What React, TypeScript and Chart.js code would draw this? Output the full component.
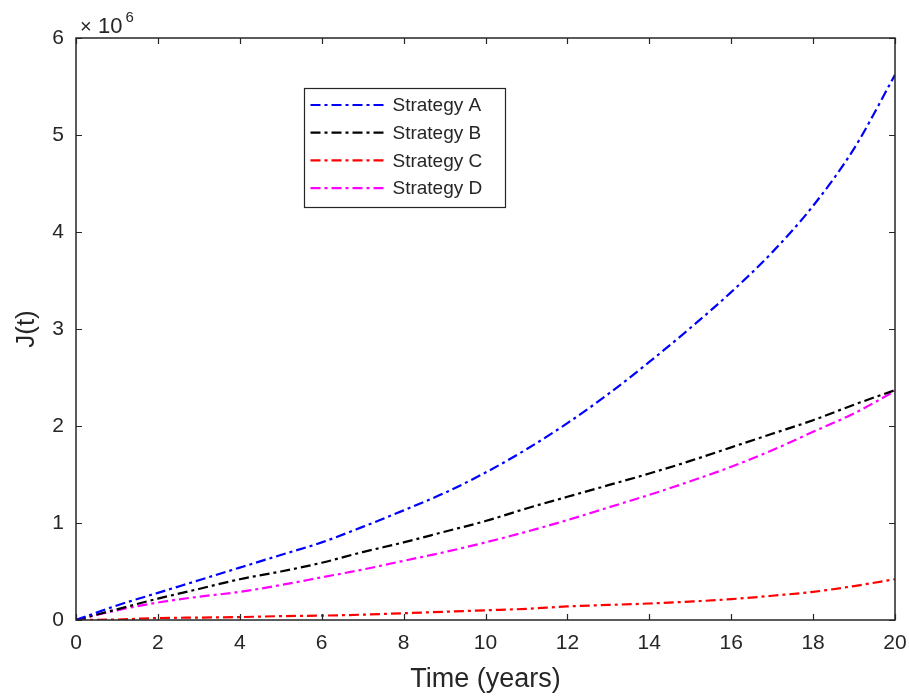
import React, { useEffect, useRef } from "react";
import { Chart, registerables } from "chart.js";

Chart.register(...registerables);

// Time axis (years)
const years = [0, 1, 2, 3, 4, 5, 6, 7, 8, 9, 10, 11, 12, 13, 14, 15, 16, 17, 18, 19, 20];

// J(t) values, in units of 10^6
const strategyA = [0, 0.15, 0.28, 0.41, 0.54, 0.67, 0.8, 0.96, 1.13, 1.31, 1.52, 1.76, 2.03, 2.33, 2.66, 3.01, 3.38, 3.79, 4.27, 4.86, 5.62];
const strategyB = [0, 0.11, 0.22, 0.32, 0.42, 0.5, 0.59, 0.7, 0.8, 0.91, 1.02, 1.15, 1.27, 1.39, 1.51, 1.64, 1.78, 1.92, 2.06, 2.22, 2.37];
const strategyC = [0, 0.005, 0.02, 0.025, 0.03, 0.04, 0.045, 0.055, 0.07, 0.085, 0.1, 0.115, 0.14, 0.155, 0.17, 0.19, 0.215, 0.25, 0.29, 0.35, 0.42];
const strategyD = [0, 0.1, 0.18, 0.24, 0.29, 0.36, 0.44, 0.52, 0.61, 0.7, 0.8, 0.91, 1.03, 1.16, 1.29, 1.43, 1.58, 1.75, 1.94, 2.13, 2.36];

const seriesLabels = ["Strategy A", "Strategy B", "Strategy C", "Strategy D"];
const seriesColors = ["#0000ff", "#000000", "#ff0000", "#ff00ff"];
const seriesValues = [strategyA, strategyB, strategyC, strategyD];

const xTicks = [0, 2, 4, 6, 8, 10, 12, 14, 16, 18, 20];
const yTicks = [0, 1, 2, 3, 4, 5, 6];

const FONT = "'Liberation Sans', Arial, Helvetica, sans-serif";
const AXIS_COLOR = "#262626";
const DASH = [10, 4, 3, 4];

const matlabAxesPlugin = {
  id: "matlabAxes",
  afterDatasetsDraw(chart: any) {
    const { ctx, chartArea } = chart;
    const { left, right, top, bottom } = chartArea;
    const xs = chart.scales.x;
    const ys = chart.scales.y;
    const tl = 6;
    ctx.save();
    ctx.strokeStyle = AXIS_COLOR;
    ctx.lineWidth = 1.2;
    ctx.setLineDash([]);
    ctx.beginPath();
    xTicks.forEach((v) => {
      const px = Math.round(xs.getPixelForValue(v)) + 0.5;
      ctx.moveTo(px, bottom);
      ctx.lineTo(px, bottom - tl);
      ctx.moveTo(px, top);
      ctx.lineTo(px, top + tl);
    });
    yTicks.forEach((v) => {
      const py = Math.round(ys.getPixelForValue(v)) + 0.5;
      ctx.moveTo(left, py);
      ctx.lineTo(left + tl, py);
      ctx.moveTo(right, py);
      ctx.lineTo(right - tl, py);
    });
    ctx.stroke();
    ctx.lineWidth = 1.5;
    ctx.strokeRect(left, top, right - left, bottom - top);
    ctx.restore();
  },
  afterDraw(chart: any) {
    const { ctx, chartArea } = chart;
    ctx.save();
    // exponent label
    ctx.fillStyle = AXIS_COLOR;
    ctx.textBaseline = "alphabetic";
    ctx.textAlign = "left";
    ctx.font = `20px ${FONT}`;
    const ex = chartArea.left + 4;
    ctx.fillText("\u00d7", ex, 33);
    ctx.font = `22px ${FONT}`;
    ctx.fillText("10", ex + 18, 33);
    const w10 = ctx.measureText("10").width;
    ctx.font = `15px ${FONT}`;
    ctx.fillText("6", ex + 19 + w10 + 2, 22);

    // legend
    const bx = 304.5;
    const by = 88.5;
    const bw = 201;
    const bh = 119;
    ctx.fillStyle = "#ffffff";
    ctx.fillRect(bx, by, bw, bh);
    ctx.strokeStyle = AXIS_COLOR;
    ctx.lineWidth = 1.2;
    ctx.setLineDash([]);
    ctx.strokeRect(bx, by, bw, bh);
    chart.data.datasets.forEach((ds: any, i: number) => {
      const cy = by + 16.5 + i * 27.7;
      ctx.strokeStyle = ds.borderColor;
      ctx.lineWidth = 2.2;
      ctx.setLineDash(DASH);
      ctx.beginPath();
      ctx.moveTo(bx + 6, cy);
      ctx.lineTo(bx + 81, cy);
      ctx.stroke();
      ctx.setLineDash([]);
      ctx.fillStyle = AXIS_COLOR;
      ctx.font = `19px ${FONT}`;
      ctx.textBaseline = "middle";
      ctx.fillText(ds.label, bx + 88, cy + 1);
    });
    ctx.restore();
  },
};

export default function App() {
  const canvasRef = useRef<HTMLCanvasElement | null>(null);

  useEffect(() => {
    document.body.style.margin = "0";
    document.body.style.background = "#ffffff";
    const canvas = canvasRef.current;
    if (!canvas) return;
    const chart = new Chart(canvas, {
      type: "line",
      data: {
        datasets: seriesValues.map((vals, i) => ({
          label: seriesLabels[i],
          data: years.map((t, j) => ({ x: t, y: vals[j] })),
          borderColor: seriesColors[i],
          backgroundColor: seriesColors[i],
          borderWidth: 2.2,
          borderDash: DASH,
          pointRadius: 0,
          cubicInterpolationMode: "monotone" as const,
          fill: false,
        })),
      },
      options: {
        responsive: false,
        animation: false,
        events: [],
        layout: { padding: { top: 38, right: 14, left: 0, bottom: 0 } },
        plugins: {
          legend: { display: false },
          tooltip: { enabled: false },
          title: { display: false },
        },
        scales: {
          x: {
            type: "linear",
            min: 0,
            max: 20,
            afterBuildTicks: (scale: any) => {
              scale.ticks = xTicks.map((v) => ({ value: v }));
            },
            afterFit: (scale: any) => {
              scale.height = 77;
              scale.paddingLeft = 0;
              scale.paddingRight = 0;
            },
            grid: { display: false, drawTicks: false },
            border: { display: false },
            ticks: {
              padding: 11,
              color: AXIS_COLOR,
              font: { family: FONT, size: 21 },
              maxRotation: 0,
              autoSkip: false,
              callback: (v: any) => String(v),
            },
            title: {
              display: true,
              text: "Time (years)",
              color: AXIS_COLOR,
              font: { family: FONT, size: 27, lineHeight: 1 },
              padding: { top: 0, bottom: 4 },
            },
          },
          y: {
            type: "linear",
            min: 0,
            max: 6,
            afterBuildTicks: (scale: any) => {
              scale.ticks = yTicks.map((v) => ({ value: v }));
            },
            afterFit: (scale: any) => {
              scale.width = 76;
              scale.paddingTop = 0;
              scale.paddingBottom = 0;
            },
            grid: { display: false, drawTicks: false },
            border: { display: false },
            ticks: {
              padding: 12,
              color: AXIS_COLOR,
              font: { family: FONT, size: 21 },
              autoSkip: false,
              callback: (v: any) => String(v),
            },
            title: {
              display: true,
              text: "J(t)",
              color: AXIS_COLOR,
              font: { family: FONT, size: 26, lineHeight: 1 },
              padding: { top: 14, bottom: 0 },
            },
          },
        },
      },
      plugins: [matlabAxesPlugin],
    });
    return () => chart.destroy();
  }, []);

  return (
    <div style={{ width: 909, height: 697, background: "#ffffff" }}>
      <canvas ref={canvasRef} width={909} height={697} style={{ display: "block" }} />
    </div>
  );
}
